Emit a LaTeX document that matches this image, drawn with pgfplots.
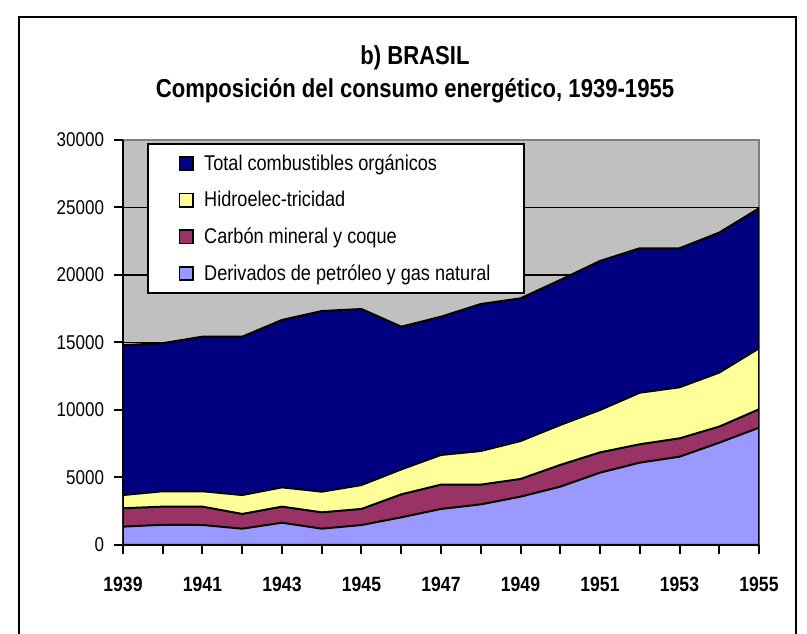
\documentclass[border=0pt]{standalone}
\usepackage{fontspec}
\setmainfont{Liberation Sans}[FakeStretch=0.85]
\usepackage{pgfplots}
\pgfplotsset{compat=1.18}
\definecolor{cNavy}{HTML}{000080}
\definecolor{cYellow}{HTML}{FFFF99}
\definecolor{cMaroon}{HTML}{993366}
\definecolor{cLilac}{HTML}{9999FF}
\definecolor{cBack}{HTML}{C0C0C0}
\definecolor{cEdge}{HTML}{808080}

% cumulative tops of the stacked areas
\pgfplotstableread{
year total  hidro  carbon petro
1939 14800  3700   2720   1360
1940 14950  3980   2840   1500
1941 15430  3980   2840   1480
1942 15430  3700   2300   1210
1943 16670  4270   2840   1650
1944 17330  3950   2420   1210
1945 17480  4440   2670   1480
1946 16170  5600   3750   2050
1947 16910  6670   4470   2670
1948 17850  6960   4470   3010
1949 18270  7700   4890   3580
1950 19630  8890   5930   4320
1951 21040  10000  6860   5360
1952 21980  11280  7460   6100
1953 21980  11680  7900   6540
1954 23140  12770  8770   7580
1955 24940  14570  10050  8690
}\datatable

\begin{document}
\begin{tikzpicture}
\path[use as bounding box] (-92.25pt,-66.75pt) rectangle (513pt,408.75pt);
\draw[line width=1.5pt] (-78pt,-70pt) -- (-78pt,396pt) -- (504.75pt,396pt) -- (504.75pt,-70pt);
\node[anchor=base, font=\bfseries\fontsize{19.5}{23}\selectfont] at (219pt,360pt) {b) BRASIL};
\node[anchor=base, font=\bfseries\fontsize{19.5}{23}\selectfont] at (219pt,335.25pt) {Composición del consumo energético, 1939-1955};
\begin{axis}[
	scale only axis, width=477pt, height=303.75pt,
	xmin=1939, xmax=1955, ymin=0, ymax=30000,
	axis lines*=left,
	axis line style={black, line width=1.5pt},
	axis background/.style={fill=cBack, draw=cEdge, line width=1.5pt},
	tick align=outside, major tick length=6.75pt,
	tick style={black, line width=1.5pt},
	xtick={1939,1940,...,1955},
	xticklabels={1939,,1941,,1943,,1945,,1947,,1949,,1951,,1953,,1955},
	xticklabel style={font=\bfseries\fontsize{15.5}{18}\selectfont, yshift=-14pt},
	ytick={0,5000,...,25000},
	extra y ticks={30000},
	extra y tick style={ymajorgrids=false},
	scaled y ticks=false,
	yticklabel style={font=\fontsize{15}{18}\selectfont, xshift=-4pt},
	/pgf/number format/.cd, 1000 sep={}, assume math mode=true, /pgfplots/.cd,
	ymajorgrids, grid style={black, line width=1.2pt},
	legend cell align=left,
	legend image code/.code={\draw[#1, line width=1.2pt] (0pt,-5pt) rectangle (10pt,5pt);},
	legend style={at={(0.0377,0.9926)}, anchor=north west, draw=black, line width=1.5pt,
		fill=white, font=\fontsize{16}{19}\selectfont, inner xsep=23pt, inner ysep=6pt,
		row sep=10.3pt, /tikz/every odd column/.append style={column sep=6pt}},
]
\addplot[fill=cNavy, draw=black, line width=1.5pt] table[x=year, y=total] {\datatable} \closedcycle;
\addplot[fill=cYellow, draw=black, line width=1.5pt] table[x=year, y=hidro] {\datatable} \closedcycle;
\addplot[fill=cMaroon, draw=black, line width=1.5pt] table[x=year, y=carbon] {\datatable} \closedcycle;
\addplot[fill=cLilac, draw=black, line width=1.5pt] table[x=year, y=petro] {\datatable} \closedcycle;
\legend{Total combustibles orgánicos, Hidroelec-tricidad, Carbón mineral y coque, Derivados de petróleo y gas natural}
\end{axis}
\end{tikzpicture}
\end{document}
